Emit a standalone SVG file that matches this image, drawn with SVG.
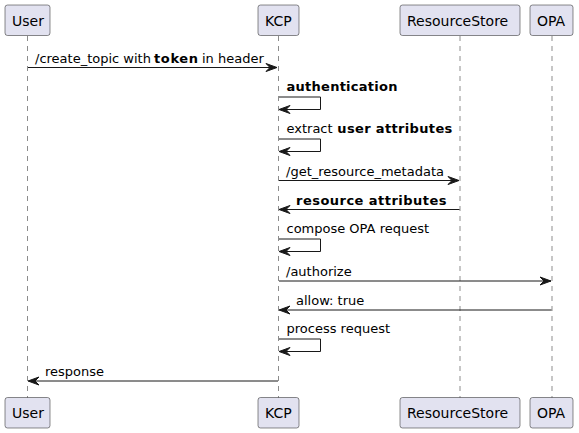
<svg xmlns="http://www.w3.org/2000/svg" width="579" height="433" viewBox="0 0 579 433">
<defs>
<style>
.box{fill:#E2E2F0;stroke:#181818;stroke-width:0.5}
.life{stroke:#181818;stroke-width:0.5;stroke-dasharray:5,5;fill:none}
.msg{stroke:#181818;stroke-width:1;fill:none}
.head{fill:#181818;stroke:#181818;stroke-width:1}
.pt{font-family:"DejaVu Sans",sans-serif;font-size:14px;fill:#000}
.mt{font-family:"DejaVu Sans",sans-serif;font-size:13px;fill:#000}
.b{font-weight:bold}
</style>
</defs>
<g id="lifelines">
<line class="life" x1="27.5" y1="36" x2="27.5" y2="398"/>
<line class="life" x1="278.5" y1="36" x2="278.5" y2="398"/>
<line class="life" x1="460" y1="36" x2="460" y2="398"/>
<line class="life" x1="552" y1="36" x2="552" y2="398"/>
</g>
<g id="User">
<rect class="box" x="5" y="5" width="45" height="30.5" rx="2.5"/>
<text class="pt" x="12" y="25.5">User</text>
<rect class="box" x="5" y="397.5" width="45" height="30.5" rx="2.5"/>
<text class="pt" x="12" y="418">User</text>
</g>
<g id="KCP">
<rect class="box" x="258" y="5" width="41" height="30.5" rx="2.5"/>
<text class="pt" x="265" y="25.5">KCP</text>
<rect class="box" x="258" y="397.5" width="41" height="30.5" rx="2.5"/>
<text class="pt" x="265" y="418">KCP</text>
</g>
<g id="ResourceStore">
<rect class="box" x="400" y="5" width="120" height="30.5" rx="2.5"/>
<text class="pt" x="407" y="25.5">ResourceStore</text>
<rect class="box" x="400" y="397.5" width="120" height="30.5" rx="2.5"/>
<text class="pt" x="407" y="418">ResourceStore</text>
</g>
<g id="OPA">
<rect class="box" x="530" y="5" width="43" height="30.5" rx="2.5"/>
<text class="pt" x="537" y="25.5">OPA</text>
<rect class="box" x="530" y="397.5" width="43" height="30.5" rx="2.5"/>
<text class="pt" x="537" y="418">OPA</text>
</g>
<g id="connectors">
<line class="msg" x1="28" y1="67.5" x2="277" y2="67.5"/>
<polygon class="head" points="266,63.5 277,67.5 266,71.5 270,67.5"/>
<text class="mt" x="35" y="62.5">/create_topic with</text>
<text class="mt b" x="154" y="62.5" textLength="44" lengthAdjust="spacing">token</text>
<text class="mt" x="202" y="62.5">in header</text>
<polyline class="msg" points="279,97 320.5,97 320.5,109.5 280,109.5"/>
<polygon class="head" points="290,105.5 279,109.5 290,113.5 286,109.5"/>
<text class="mt b" x="286.5" y="91" textLength="111" lengthAdjust="spacing">authentication</text>
<polyline class="msg" points="279,139 320.5,139 320.5,151.5 280,151.5"/>
<polygon class="head" points="290,147.5 279,151.5 290,155.5 286,151.5"/>
<text class="mt" x="286.5" y="133">extract</text>
<text class="mt b" x="337.3" y="133" textLength="115" lengthAdjust="spacing">user attributes</text>
<line class="msg" x1="279" y1="180.5" x2="459" y2="180.5"/>
<polygon class="head" points="448,176.5 459,180.5 448,184.5 452,180.5"/>
<text class="mt" x="286" y="175.5">/get_resource_metadata</text>
<line class="msg" x1="280" y1="209.5" x2="459.5" y2="209.5"/>
<polygon class="head" points="290,205.5 279,209.5 290,213.5 286,209.5"/>
<text class="mt b" x="296" y="204.5" textLength="150.5" lengthAdjust="spacing">resource attributes</text>
<polyline class="msg" points="279,239 320.5,239 320.5,251.5 280,251.5"/>
<polygon class="head" points="290,247.5 279,251.5 290,255.5 286,251.5"/>
<text class="mt" x="286.5" y="233">compose OPA request</text>
<line class="msg" x1="279" y1="281" x2="551" y2="281"/>
<polygon class="head" points="540,277 551,281 540,285 544,281"/>
<text class="mt" x="286" y="276">/authorize</text>
<line class="msg" x1="280" y1="310" x2="551.5" y2="310"/>
<polygon class="head" points="290,306 279,310 290,314 286,310"/>
<text class="mt" x="296" y="305">allow: true</text>
<polyline class="msg" points="279,339 320.5,339 320.5,351.5 280,351.5"/>
<polygon class="head" points="290,347.5 279,351.5 290,355.5 286,351.5"/>
<text class="mt" x="286.5" y="333">process request</text>
<line class="msg" x1="29" y1="381" x2="278" y2="381"/>
<polygon class="head" points="39,377 28,381 39,385 35,381"/>
<text class="mt" x="45" y="376">response</text>
</g>
</svg>
